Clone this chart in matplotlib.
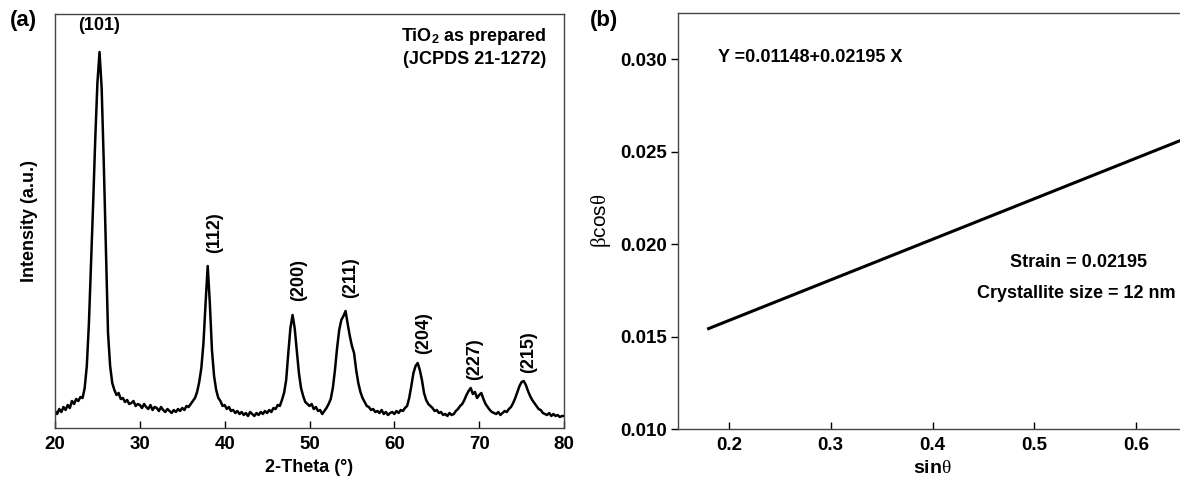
import matplotlib
matplotlib.use('Agg')
import matplotlib.pyplot as plt
import numpy as np

plt.rcParams['font.family'] = ['Liberation Sans', 'DejaVu Sans']
plt.rcParams['mathtext.fontset'] = 'custom'
plt.rcParams['mathtext.rm'] = 'Liberation Sans'
plt.rcParams['mathtext.bf'] = 'Liberation Sans:bold'
plt.rcParams['mathtext.it'] = 'Liberation Serif'

# ---- panel (a): XRD pattern, 2-theta on a 0.25 deg grid, intensity in a.u.
two_theta = np.arange(20.0, 80.001, 0.25)
intensity = [
    17, 14, 19, 16, 21, 18, 23, 20,          # 20.00 - 21.75
    27, 24, 29, 27, 31, 30, 40, 62,          # 22.00 - 23.75
    105, 165, 225, 290, 345, 376, 340, 265,  # 24.00 - 25.75
    180, 95, 62, 45, 38, 33, 35, 29,         # 26.00 - 27.75
    30, 26, 28, 24, 25, 27, 22, 24,          # 28.00 - 29.75
    23, 20, 24, 21, 19, 23, 18, 21,          # 30.00 - 31.75
    20, 17, 21, 18, 16, 19, 17, 15,          # 32.00 - 33.75
    18, 16, 19, 17, 20, 18, 22, 21,          # 34.00 - 35.75
    24, 27, 30, 36, 46, 60, 85, 125,         # 36.00 - 37.75
    162, 125, 78, 52, 38, 30, 27, 22,        # 38.00 - 39.75
    23, 19, 21, 17, 18, 15, 17, 14,          # 40.00 - 41.75
    16, 13, 15, 12, 16, 14, 12, 15,          # 42.00 - 43.75
    13, 16, 14, 17, 15, 18, 16, 20,          # 44.00 - 45.75
    19, 23, 22, 28, 35, 48, 75, 100,         # 46.00 - 47.75
    113, 100, 78, 55, 40, 32, 26, 24,        # 48.00 - 49.75
    22, 24, 19, 21, 17, 18, 14, 17,          # 50.00 - 51.75
    20, 24, 29, 40, 58, 80, 98, 108,         # 52.00 - 53.75
    112, 117, 104, 92, 82, 75, 58, 45,       # 54.00 - 55.75
    36, 30, 26, 22, 21, 18, 19, 16,          # 56.00 - 57.75
    17, 15, 18, 14, 16, 13, 15, 16,          # 58.00 - 59.75
    14, 17, 15, 18, 17, 20, 22, 30,          # 60.00 - 61.75
    42, 55, 62, 65, 58, 48, 35, 28,          # 62.00 - 63.75
    24, 22, 20, 17, 18, 15, 16, 13,          # 64.00 - 65.75
    14, 12, 15, 13, 14, 17, 19, 22,          # 66.00 - 67.75
    24, 28, 33, 37, 40, 34, 36, 30,          # 68.00 - 69.75
    33, 35, 29, 24, 21, 18, 16, 15,          # 70.00 - 71.75
    14, 16, 13, 15, 17, 16, 19, 21,          # 72.00 - 73.75
    25, 30, 36, 42, 46, 47, 43, 37,          # 74.00 - 75.75
    32, 28, 25, 22, 19, 18, 15, 14,          # 76.00 - 77.75
    13, 15, 12, 14, 12, 13, 11, 12,          # 78.00 - 79.75
    12,                                      # 80.00
]

peak_labels = ['(101)', '(112)', '(200)', '(211)', '(204)', '(227)', '(215)']
peak_label_x = [25.25, 38.8, 48.7, 54.9, 63.5, 69.5, 75.8]
peak_label_y = [403, 195, 148, 150, 95, 69, 76]
peak_label_rot = [0, 90, 90, 90, 90, 90, 90]

# ---- panel (b): Williamson-Hall fit
intercept = 0.01148
slope = 0.02195
sin_theta = [0.18, 0.66]

fig = plt.figure(figsize=(11.8, 4.78), dpi=100)
ax1 = fig.add_axes([0.0466, 0.1046, 0.4314, 0.8661])
ax2 = fig.add_axes([0.5746, 0.1025, 0.4314, 0.8703])

ax1.plot(two_theta, intensity, color='black', linewidth=1.8)
ax1.set_xlim(20, 80)
ax1.set_ylim(0, 414)
ax1.set_xticks([20, 30, 40, 50, 60, 70, 80])
ax1.set_yticks([])
ax1.tick_params(axis='x', direction='in', length=5, width=1, pad=6,
                labelsize=13.5)
for lab in ax1.get_xticklabels():
    lab.set_fontweight('bold')
ax1.set_xlabel('2-Theta (°)', fontsize=13, fontweight='bold', labelpad=4)
ax1.set_ylabel('Intensity (a.u.)', fontsize=13, fontweight='bold', labelpad=12)
for s in ax1.spines.values():
    s.set_color('#444444')
    s.set_linewidth(1.0)

for lab, x, y, r in zip(peak_labels, peak_label_x, peak_label_y, peak_label_rot):
    ax1.text(x, y, lab, rotation=r, ha='center', va='center',
             fontsize=13, fontweight='bold')

ax1.text(0.965, 0.945, r'TiO$_{\mathbf{2}}$ as prepared', transform=ax1.transAxes,
         ha='right', va='center', fontsize=13, fontweight='bold')
ax1.text(0.965, 0.89, '(JCPDS 21-1272)', transform=ax1.transAxes,
         ha='right', va='center', fontsize=13, fontweight='bold')
fig.text(0.008, 0.958, '(a)', fontsize=16, fontweight='bold', va='center')

x_fit = np.array(sin_theta)
ax2.plot(x_fit, intercept + slope * x_fit, color='black', linewidth=2.2)
ax2.set_xlim(0.15, 0.65)
ax2.set_ylim(0.010, 0.0325)
ax2.set_xticks([0.2, 0.3, 0.4, 0.5, 0.6])
ax2.set_yticks([0.010, 0.015, 0.020, 0.025, 0.030])
ax2.set_xticklabels(['0.2', '0.3', '0.4', '0.5', '0.6'])
ax2.set_yticklabels(['0.010', '0.015', '0.020', '0.025', '0.030'])
ax2.tick_params(axis='x', direction='in', length=5, width=1, pad=6, labelsize=13.5)
ax2.tick_params(axis='y', direction='out', length=5, width=1, pad=3, labelsize=13.5)
for lab in ax2.get_xticklabels() + ax2.get_yticklabels():
    lab.set_fontweight('bold')
ax2.set_xlabel(r'sin$\theta$', fontsize=14, fontweight='bold', labelpad=4)
ax2.set_ylabel(r'$\beta$cos$\theta$', fontsize=15, labelpad=5)
for s in ax2.spines.values():
    s.set_color('#444444')
    s.set_linewidth(1.0)

ax2.text(0.189, 0.03012, 'Y =0.01148+0.02195 X', ha='left', va='center',
         fontsize=13, fontweight='bold')
ax2.text(0.543, 0.01901, 'Strain = 0.02195', ha='center', va='center',
         fontsize=13, fontweight='bold')
ax2.text(0.541, 0.01733, 'Crystallite size = 12 nm', ha='center', va='center',
         fontsize=13, fontweight='bold')
fig.text(0.5, 0.958, '(b)', fontsize=16, fontweight='bold', va='center')

fig.savefig('out.png', dpi=100)
